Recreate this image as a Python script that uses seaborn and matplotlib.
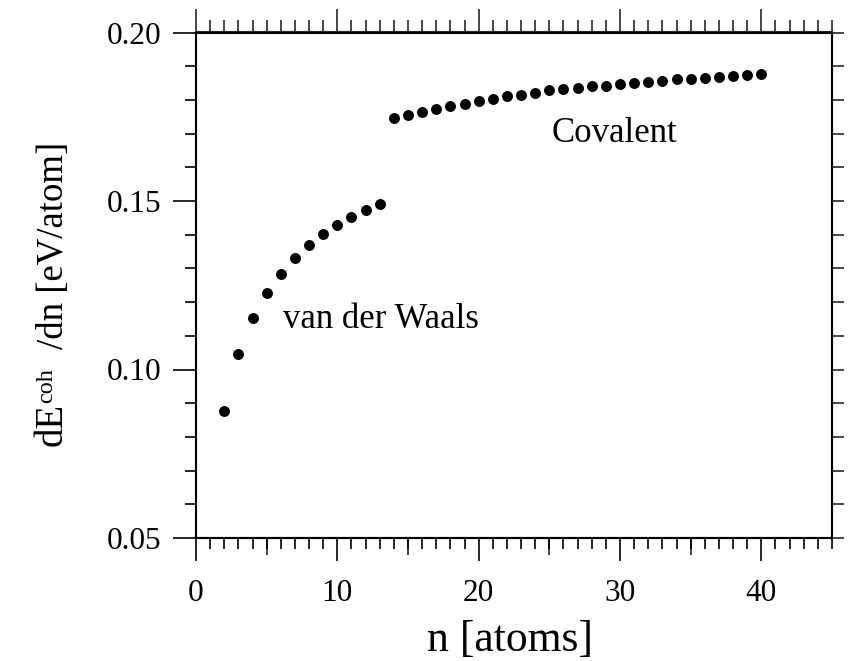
import matplotlib
matplotlib.use("Agg")
import matplotlib.pyplot as plt
import seaborn as sns
import pandas as pd
from matplotlib.ticker import MultipleLocator, FixedLocator, NullFormatter, NullLocator

# ---- data ----
n_vdw = list(range(2, 14))
e_vdw = [0.0877, 0.1046, 0.1153, 0.1227, 0.1283, 0.1330, 0.1368, 0.1401,
         0.1429, 0.1452, 0.1474, 0.1492]
n_cov = list(range(14, 41))
e_cov = [0.1745, 0.1755, 0.1765, 0.1774, 0.1781, 0.1788, 0.1797, 0.1804,
         0.1811, 0.1816, 0.1821, 0.1828, 0.1831, 0.1836, 0.1840, 0.1842,
         0.1847, 0.1851, 0.1854, 0.1857, 0.1861, 0.1863, 0.1866, 0.1868,
         0.1871, 0.1874, 0.1877]
region_labels = ["van der Waals", "Covalent"]
region_label_x = [13.1, 29.6]
region_label_y = [0.1124, 0.1674]
x_ticks = [0, 10, 20, 30, 40]
y_ticks = [0.05, 0.10, 0.15, 0.20]

df = pd.DataFrame({"n": n_vdw + n_cov, "e": e_vdw + e_cov})

sns.set_style("ticks")
plt.rcParams["font.family"] = ["Liberation Serif", "DejaVu Serif"]

W, H = 850, 661
fig = plt.figure(figsize=(W / 100, H / 100), dpi=100)
ax = fig.add_axes([196 / W, 1 - 538 / H, (832 - 196) / W, (538 - 32.5) / H])

sns.scatterplot(data=df, x="n", y="e", ax=ax, color="black", s=62,
                linewidth=0, legend=False, zorder=3)

ax.set_xlim(0, 45)
ax.set_ylim(0.05, 0.20)
ax.set_xlabel("")
ax.set_ylabel("")

ax.set_xticks(x_ticks)
ax.set_xticklabels([str(v) for v in x_ticks])
ax.set_yticks(y_ticks)
ax.set_yticklabels([f"{v:.2f}" for v in y_ticks])
ax.xaxis.set_minor_locator(MultipleLocator(1))
ax.yaxis.set_minor_locator(MultipleLocator(0.01))

lw_tick = 1.2
ax.tick_params(axis="both", which="both", direction="out", top=False,
               right=False, width=lw_tick, colors="black", labelsize=22.5)
ax.tick_params(axis="x", which="major", length=16.6, pad=13)
ax.tick_params(axis="x", which="minor", length=7.9)
ax.tick_params(axis="y", which="major", length=16.6, pad=8)
ax.tick_params(axis="y", which="minor", length=7.9)

for sp in ax.spines.values():
    sp.set_visible(True)
    sp.set_linewidth(1.5)
    sp.set_color("black")

# top ticks
secx = ax.secondary_xaxis("top")
secx.xaxis.set_major_locator(MultipleLocator(10))
secx.xaxis.set_minor_locator(MultipleLocator(1))
secx.xaxis.set_major_formatter(NullFormatter())
secx.tick_params(axis="x", which="major", length=16.6, width=lw_tick, direction="out")
secx.tick_params(axis="x", which="minor", length=8.6, width=lw_tick, direction="out")
secx.spines["top"].set_linewidth(1.5)

# right ticks
secy = ax.secondary_yaxis("right")
secy.yaxis.set_major_locator(MultipleLocator(0.01))
secy.yaxis.set_minor_locator(NullLocator())
secy.yaxis.set_major_formatter(NullFormatter())
secy.tick_params(axis="y", which="major", length=8.6, width=lw_tick, direction="out")
secy.spines["right"].set_linewidth(1.5)

# medium ticks at the fives on the bottom
sec5 = ax.secondary_xaxis("bottom")
sec5.xaxis.set_major_locator(FixedLocator([5, 15, 25, 35]))
sec5.xaxis.set_minor_locator(NullLocator())
sec5.xaxis.set_major_formatter(NullFormatter())
sec5.tick_params(axis="x", which="major", length=12.2, width=lw_tick, direction="out")
sec5.spines["bottom"].set_linewidth(1.5)

for lab, x, y in zip(region_labels, region_label_x, region_label_y):
    ax.text(x, y, lab, ha="center", va="baseline", fontsize=25, color="black")

# x label
fig.text(510 / W, 1 - 651 / H, "n [atoms]", ha="center", va="baseline",
         fontsize=31.5, color="black")

# composite y label (pieces placed in figure pixels)
common = dict(rotation=90, rotation_mode="anchor", ha="left", va="baseline",
              color="black")
fig.text(61.5 / W, 1 - 446 / H, "dE", fontsize=28, **common)
fig.text(52.5 / W, 1 - 403 / H, "coh", fontsize=17.5, **common)
fig.text(62.5 / W, 1 - 349 / H, "/dn [eV/atom]", fontsize=26.5, **common)

fig.savefig("out.png", dpi=100)
